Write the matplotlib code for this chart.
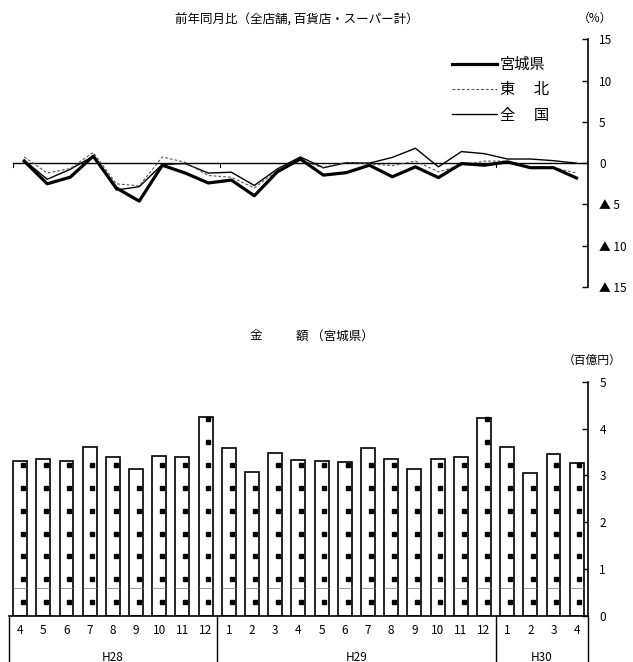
import numpy as np
import matplotlib
matplotlib.use('Agg')
import matplotlib.pyplot as plt
import matplotlib.transforms as mtransforms

plt.rcParams['font.family'] = ['Noto Sans CJK JP', 'DejaVu Sans']

# months H28.4 - H30.4
months = [4, 5, 6, 7, 8, 9, 10, 11, 12,
          1, 2, 3, 4, 5, 6, 7, 8, 9, 10, 11, 12,
          1, 2, 3, 4]
years = ['H28', 'H29', 'H30']
year_start = [0, 9, 21]
year_end = [8, 20, 24]

# 前年同月比 (%)
miyagi_yoy = [0.25, -2.5, -1.7, 0.85, -3.0, -4.6, -0.25, -1.2, -2.4,
              -2.05, -3.95, -1.05, 0.5, -1.45, -1.15, -0.25, -1.65, -0.45,
              -1.75, -0.05, -0.25, 0.15, -0.55, -0.55, -1.8]
tohoku_yoy = [0.75, -1.2, -0.65, 1.3, -2.5, -2.75, 0.75, 0.1, -1.5,
              -1.7, -3.0, -0.9, 0.4, -0.6, 0.1, -0.1, -0.3, 0.25,
              -1.05, -0.25, 0.25, 0.25, -0.55, -0.55, -1.2]
zenkoku_yoy = [0.35, -1.95, -0.75, 0.85, -3.25, -2.85, -0.15, -0.05, -1.2,
               -1.1, -2.7, -0.7, 0.75, -0.55, 0.05, 0.0, 0.7, 1.8,
               -0.45, 1.4, 1.15, 0.5, 0.5, 0.3, 0.0]

# 金額 (百億円)
sales = [3.31, 3.35, 3.31, 3.60, 3.40, 3.14, 3.41, 3.40, 4.24,
         3.59, 3.08, 3.48, 3.32, 3.30, 3.28, 3.59, 3.35, 3.13,
         3.35, 3.40, 4.23, 3.60, 3.06, 3.46, 3.26]

W, H = 633, 662
fig = plt.figure(figsize=(W / 100, H / 100), dpi=100)
x = np.arange(len(months))

# ---- top chart ----
ax = fig.add_axes([12.7 / W, 1 - 287 / H, (588 - 12.7) / W, (287 - 39.3) / H])
ax.plot(x, zenkoku_yoy, color='black', lw=1.0, zorder=3)
ax.plot(x, tohoku_yoy, color='#555555', lw=0.8, dashes=(2.5, 1.8), zorder=3)
ax.plot(x, miyagi_yoy, color='black', lw=2.3, zorder=4)
ax.axhline(0, color='black', lw=1.0, zorder=2)
for b in [-0.5, 8.5, 20.5]:
    ax.plot([b, b], [0, -0.5], color='black', lw=0.8)
ax.set_xlim(-0.5, 24.5)
ax.set_ylim(-15, 15)
for s in ['left', 'top', 'bottom']:
    ax.spines[s].set_visible(False)
ax.spines['right'].set_linewidth(1.2)
ax.set_xticks([])
ax.yaxis.tick_right()
ax.set_yticks([15, 10, 5, 0, -5, -10, -15])
ax.set_yticklabels(['15', '10', '5', '0', '▲ 5', '▲ 10', '▲ 15'])
ax.tick_params(axis='y', direction='in', length=4, width=1, pad=8, labelsize=8.5)
ax.patch.set_alpha(0)

ax.legend(handles=[
    plt.Line2D([], [], color='black', lw=2.3),
    plt.Line2D([], [], color='#555555', lw=0.8, dashes=(2.5, 1.8)),
    plt.Line2D([], [], color='black', lw=1.0)],
    labels=['宮城県', '東\u3000 北', '全\u3000 国'],
    loc='upper left', bbox_to_anchor=(451.7 / W, 1 - 56 / H),
    bbox_transform=fig.transFigure, frameon=False, borderpad=0, borderaxespad=0,
    handlelength=2.95, handletextpad=0.2, labelspacing=0.55, fontsize=11)

fig.text(175 / W, 1 - 20.5 / H, '前年同月比（全店舗, 百貨店・スーパー計）',
         fontsize=9, ha='left', va='center')
fig.text(595 / W, 1 - 18 / H, '（%）', fontsize=8.5, ha='center', va='center')

# ---- bottom chart ----
ax2 = fig.add_axes([8.5 / W, 1 - 616 / H, (588.3 - 8.5) / W, (616 - 381.7) / H])
ax2.bar(x, sales, width=0.6, color='white', edgecolor='black', lw=1.2, zorder=2)
dot_levels = 0.29 + 0.49 * np.arange(10)
for xi, v in zip(x, sales):
    ys = dot_levels[dot_levels < v]
    ax2.plot(np.full(len(ys), xi + 0.12), ys, ls='none', marker='s',
             ms=2.6, color='black', zorder=3)
    ax2.plot([xi - 0.3, xi + 0.3], [0.59, 0.59], color='#777777', lw=0.5, zorder=3)
ax2.set_xlim(-0.5, 24.5)
ax2.set_ylim(0, 5)
for s in ['left', 'top']:
    ax2.spines[s].set_visible(False)
ax2.spines['right'].set_linewidth(1.2)
ax2.spines['bottom'].set_linewidth(1.2)
ax2.set_xticks([])
ax2.yaxis.tick_right()
ax2.set_yticks(range(6))
ax2.tick_params(axis='y', direction='in', length=4, width=1, pad=8, labelsize=8.5)

trans = mtransforms.blended_transform_factory(ax2.transData, ax2.transAxes)
for b in [-0.5, 8.5, 20.5, 24.5]:
    ax2.plot([b, b], [0, -0.2], color='black', lw=1.0, transform=trans, clip_on=False)
for xi, m in zip(x, months):
    ax2.text(xi, -0.06, str(m), transform=trans, ha='center', va='center', fontsize=8.5)
for yl, a, b in zip(years, year_start, year_end):
    ax2.text((a + b) / 2, -0.175, yl, transform=trans, ha='center', va='center', fontsize=8.5)

fig.text(250 / W, 1 - 336 / H, '金', fontsize=9, ha='left', va='center')
fig.text(296 / W, 1 - 336 / H, '額 （宮城県）', fontsize=9, ha='left', va='center')
fig.text(592 / W, 1 - 360 / H, '（百億円）', fontsize=8.5, ha='center', va='center')

fig.savefig('out.png', dpi=100)
